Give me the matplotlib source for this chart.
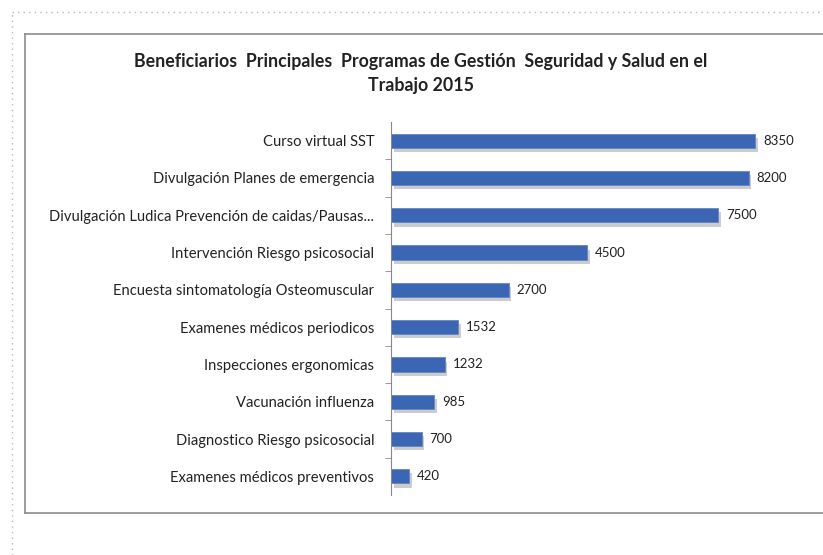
import matplotlib.pyplot as plt
import matplotlib.patheffects as pe
from matplotlib.lines import Line2D

plt.rcParams['font.family'] = ['Lato', 'DejaVu Sans']

categorias = ['Curso virtual SST',
              'Divulgación Planes de emergencia',
              'Divulgación Ludica Prevención de caidas/Pausas...',
              'Intervención Riesgo psicosocial',
              'Encuesta sintomatología Osteomuscular',
              'Examenes médicos periodicos',
              'Inspecciones ergonomicas',
              'Vacunación influenza',
              'Diagnostico Riesgo psicosocial',
              'Examenes médicos preventivos']
beneficiarios = [8350, 8200, 7500, 4500, 2700, 1532, 1232, 985, 700, 420]

W, H = 823, 555
fig = plt.figure(figsize=(W / 100, H / 100), dpi=100)

# marco punteado exterior
fig.add_artist(Line2D([12 / W, 12 / W], [0, 1 - 12 / H], transform=fig.transFigure,
                      color='#b8b8b8', lw=1, ls=(0, (1, 3))))
fig.add_artist(Line2D([12 / W, 1], [1 - 12 / H, 1 - 12 / H], transform=fig.transFigure,
                      color='#b8b8b8', lw=1, ls=(0, (1, 3))))

# marco del grafico (el lado derecho queda fuera de la imagen)
top, bot, izq = 1 - 34 / H, 1 - 513 / H, 25 / W
for xs, ys in [([izq, 1.0], [top, top]), ([izq, izq], [top, bot]), ([izq, 1.0], [bot, bot])]:
    fig.add_artist(Line2D(xs, ys, transform=fig.transFigure, color='#8c8c8c', lw=1.2))

ax = fig.add_axes([391 / W, 1 - 495 / H, (900 - 391) / W, (495 - 122) / H])
y = list(range(len(categorias)))
bars = ax.barh(y, beneficiarios, height=0.38, color='#3a66b3', edgecolor='#5f86c8', lw=0.6)
for b in bars:
    b.set_path_effects([pe.SimplePatchShadow(offset=(2, -3), shadow_rgbFace='#9a9a9a', alpha=0.5),
                        pe.Normal()])
ax.set_xlim(0, (900 - 391) / 0.0436)
ax.set_ylim(len(categorias) - 0.5, -0.5)
ax.set_yticks(y)
ax.set_yticklabels(categorias, fontsize=10.6, color='#222222')
ax.set_yticks([i + 0.5 for i in y[:-1]], minor=True)
ax.tick_params(axis='y', which='major', length=0, pad=12)
ax.tick_params(axis='y', which='minor', length=4, color='#888888')
ax.set_xticks([])
for s in ['top', 'right', 'bottom']:
    ax.spines[s].set_visible(False)
ax.spines['left'].set_color('#888888')
ax.patch.set_alpha(0)

for yi, v in zip(y, beneficiarios):
    ax.text(v + 180, yi, str(v), va='center', ha='left', fontsize=9.5, color='#222222')

fig.text(421 / W, 1 - 62 / H, 'Beneficiarios  Principales  Programas de Gestión  Seguridad y Salud en el',
         ha='center', va='center', fontsize=12.8, fontweight='bold', color='#222222')
fig.text(421 / W, 1 - 86 / H, 'Trabajo 2015', ha='center', va='center',
         fontsize=12.8, fontweight='bold', color='#222222')

fig.savefig('out.png', dpi=100)
